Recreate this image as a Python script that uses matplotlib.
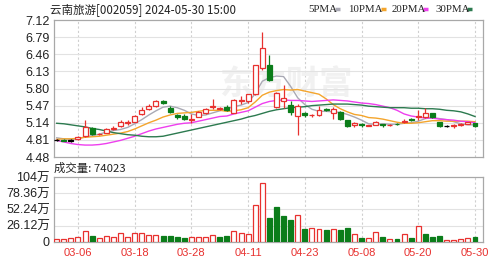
import matplotlib
matplotlib.use("Agg")
import matplotlib.pyplot as plt
from matplotlib.lines import Line2D
import numpy as np

# trading days, 2024-03-01 .. 2024-05-30
dates = ["03-01", "03-04", "03-05", "03-06", "03-07", "03-08", "03-11", "03-12", "03-13", "03-14",
         "03-15", "03-18", "03-19", "03-20", "03-21", "03-22", "03-25", "03-26", "03-27", "03-28",
         "03-29", "04-01", "04-02", "04-03", "04-08", "04-09", "04-10", "04-11", "04-12", "04-15",
         "04-16", "04-17", "04-18", "04-19", "04-22", "04-23", "04-24", "04-25", "04-26", "04-29",
         "04-30", "05-06", "05-07", "05-08", "05-09", "05-10", "05-13", "05-14", "05-15", "05-16",
         "05-17", "05-20", "05-21", "05-22", "05-23", "05-24", "05-27", "05-28", "05-29", "05-30"]
tick_dates = ["03-06", "03-18", "03-28", "04-11", "04-23", "05-08", "05-20", "05-30"]

opens = [4.81, 4.81, 4.80, 4.82, 4.88, 5.04, 4.92, 4.95, 5.02, 5.08,
         5.14, 5.16, 5.31, 5.41, 5.46, 5.55, 5.43, 5.28, 5.27, 5.20,
         5.26, 5.32, 5.44, 5.41, 5.44, 5.33, 5.56, 5.56, 5.69, 6.20,
         6.25, 5.45, 5.55, 5.49, 5.27, 5.33, 5.28, 5.28, 5.40, 5.33,
         5.35, 5.19, 5.10, 5.11, 5.08, 5.10, 5.11, 5.09, 5.12, 5.16,
         5.21, 5.25, 5.26, 5.32, 5.15, 5.08, 5.08, 5.10, 5.12, 5.13]
highs = [4.83, 4.82, 4.83, 4.88, 5.19, 5.05, 4.94, 5.03, 5.07, 5.20,
         5.19, 5.29, 5.44, 5.51, 5.58, 5.58, 5.46, 5.30, 5.30, 5.30,
         5.36, 5.43, 5.60, 5.45, 5.48, 5.60, 5.65, 5.70, 6.26, 6.89,
         6.45, 5.73, 5.87, 5.55, 5.50, 5.34, 5.31, 5.46, 5.42, 5.44,
         5.37, 5.20, 5.15, 5.13, 5.09, 5.17, 5.12, 5.11, 5.14, 5.22,
         5.23, 5.39, 5.42, 5.33, 5.16, 5.10, 5.11, 5.13, 5.16, 5.14]
lows = [4.79, 4.78, 4.77, 4.81, 4.86, 4.90, 4.91, 4.94, 5.00, 5.06,
        5.10, 5.15, 5.29, 5.39, 5.45, 5.50, 5.33, 5.22, 5.19, 5.14,
        5.25, 5.30, 5.41, 5.39, 5.36, 5.32, 5.50, 5.52, 5.67, 6.15,
        5.94, 5.42, 5.43, 5.29, 4.90, 5.25, 5.26, 5.27, 5.36, 5.21,
        5.19, 5.06, 5.05, 5.06, 5.07, 5.09, 5.05, 5.08, 5.09, 5.14,
        5.17, 5.20, 5.24, 5.24, 5.06, 5.05, 5.04, 5.07, 5.11, 5.06]
closes = [4.81, 4.79, 4.80, 4.87, 5.06, 4.92, 4.93, 5.01, 5.03, 5.15,
          5.15, 5.27, 5.39, 5.47, 5.56, 5.53, 5.35, 5.26, 5.21, 5.22,
          5.35, 5.41, 5.46, 5.43, 5.38, 5.58, 5.57, 5.69, 6.26, 6.58,
          5.96, 5.71, 5.62, 5.35, 5.47, 5.28, 5.29, 5.39, 5.39, 5.41,
          5.21, 5.08, 5.14, 5.10, 5.09, 5.16, 5.09, 5.10, 5.11, 5.18,
          5.20, 5.27, 5.32, 5.25, 5.07, 5.08, 5.09, 5.11, 5.15, 5.08]

ma5 = [4.85, 4.83, 4.82, 4.83, 4.87, 4.89, 4.92, 4.96, 4.99, 5.01,
       5.05, 5.12, 5.20, 5.29, 5.37, 5.44, 5.46, 5.43, 5.38, 5.31,
       5.28, 5.29, 5.33, 5.37, 5.41, 5.45, 5.48, 5.53, 5.70, 5.94,
       6.01, 6.04, 6.03, 5.84, 5.62, 5.49, 5.40, 5.36, 5.36, 5.35,
       5.34, 5.30, 5.25, 5.19, 5.12, 5.11, 5.12, 5.11, 5.11, 5.13,
       5.14, 5.17, 5.22, 5.24, 5.22, 5.20, 5.16, 5.12, 5.10, 5.10]
ma10 = [4.82, 4.83, 4.83, 4.84, 4.86, 4.87, 4.88, 4.90, 4.92, 4.94,
        4.97, 5.02, 5.08, 5.14, 5.19, 5.25, 5.29, 5.32, 5.33, 5.34,
        5.36, 5.38, 5.38, 5.38, 5.36, 5.37, 5.39, 5.43, 5.54, 5.67,
        5.73, 5.76, 5.78, 5.77, 5.78, 5.75, 5.72, 5.69, 5.60, 5.49,
        5.41, 5.35, 5.30, 5.28, 5.24, 5.23, 5.21, 5.18, 5.15, 5.13,
        5.13, 5.14, 5.16, 5.18, 5.18, 5.17, 5.17, 5.17, 5.17, 5.16]
ma20 = [4.80, 4.77, 4.74, 4.72, 4.71, 4.71, 4.72, 4.74, 4.77, 4.80,
        4.84, 4.88, 4.93, 4.98, 5.02, 5.05, 5.08, 5.11, 5.13, 5.14,
        5.17, 5.20, 5.23, 5.26, 5.27, 5.31, 5.34, 5.37, 5.44, 5.51,
        5.55, 5.57, 5.58, 5.57, 5.57, 5.56, 5.55, 5.56, 5.57, 5.58,
        5.57, 5.56, 5.54, 5.52, 5.51, 5.49, 5.46, 5.43, 5.38, 5.31,
        5.27, 5.25, 5.23, 5.23, 5.21, 5.20, 5.19, 5.17, 5.16, 5.14]
ma30 = [5.13, 5.12, 5.10, 5.08, 5.06, 5.03, 5.01, 4.98, 4.95, 4.93,
        4.91, 4.90, 4.88, 4.87, 4.87, 4.88, 4.91, 4.94, 4.97, 5.00,
        5.03, 5.06, 5.09, 5.12, 5.15, 5.18, 5.21, 5.25, 5.28, 5.32,
        5.36, 5.39, 5.41, 5.43, 5.44, 5.45, 5.47, 5.48, 5.49, 5.50,
        5.50, 5.50, 5.49, 5.48, 5.46, 5.45, 5.44, 5.43, 5.43, 5.43,
        5.42, 5.42, 5.41, 5.41, 5.40, 5.38, 5.37, 5.35, 5.31, 5.26]

# volume in 万手; u = red bar, d = green bar
volume = [5.2, 4.5, 6.8, 7.8, 17.0, 10.4, 6.0, 10.4, 7.8, 14.0,
          7.8, 14.0, 14.0, 11.5, 11.5, 10.4, 9.0, 7.3, 6.3, 7.8,
          7.8, 7.8, 11.5, 7.3, 8.9, 18.0, 14.6, 13.0, 59.0, 95.0,
          38.0, 56.3, 41.7, 35.5, 43.3, 20.9, 22.4, 20.9, 18.8, 20.9,
          19.8, 22.4, 13.6, 6.3, 6.3, 15.6, 7.3, 5.2, 5.2, 13.6,
          6.8, 25.0, 13.6, 8.3, 9.4, 4.0, 4.0, 4.5, 5.7, 7.4]
vol_dir = ("uuuuuduuuu" "uuuuuddddu" "uuudduuuuu"
           "dddduduudu" "dduduududu" "duddduuuud")
vol_last = "74023"

price_ticks = [4.48, 4.81, 5.14, 5.47, 5.80, 6.13, 6.46, 6.79, 7.12]
vol_ticks = [0, 26.12, 52.24, 78.36, 104]
vol_labels = ["0", "26.12万", "52.24万", "78.36万", "104万"]

RED = "#e8312f"
GREEN = "#0b7d1a"
GRID = "#e2e2e2"
FRAME = "#a8a8a8"
ma_colors = ["#a9a9b4", "#f4a52c", "#ee3fee", "#2c7a4f"]

plt.rcParams['font.family'] = ['Liberation Sans', 'Noto Sans CJK SC']

W, H = 503, 262
fig = plt.figure(figsize=(W / 100, H / 100), dpi=100)

def box(l, t, r, b):
    return [l / W, 1 - b / H, (r - l) / W, (b - t) / H]

ax = fig.add_axes(box(54, 20, 483, 157))
axv = fig.add_axes(box(54, 177, 483, 242))

x = np.arange(len(dates))
o = np.array(opens); c = np.array(closes)
hi = np.array(highs); lo = np.array(lows)
col = np.where(c > o, RED, np.where(c < o, GREEN, "black"))
face = np.where(c > o, "white", col)
xt = [dates.index(d) for d in tick_dates]

for a in (ax, axv):
    a.set_xlim(-0.38, 60.13)
    for s in a.spines.values():
        s.set_color(FRAME)
        s.set_linewidth(0.9)
    for t in xt:
        a.axvline(t, color="#cfcfcf", lw=0.8, ls=(0, (2, 2)), zorder=0)
    a.tick_params(length=0, labelsize=9, pad=3, colors="#222222")

# watermark
ax.text(0.54, 0.52, "东方财富", transform=ax.transAxes, ha="center", va="center",
        fontsize=24, color="#f1f1f1", fontweight="bold", zorder=0)

# price panel
ax.set_ylim(4.48, 7.12)
ax.set_yticks(price_ticks)
ax.set_yticklabels(["%.2f" % v for v in price_ticks])
for v in price_ticks[1:-1]:
    ax.axhline(v, color=GRID, lw=0.8, zorder=0)
ax.set_xticks([])

for m, cl in zip([ma5, ma10, ma20, ma30], ma_colors):
    ax.plot(x, m, color=cl, lw=1.0, zorder=2)

ax.vlines(x, lo, hi, colors=col, lw=0.9, zorder=3)
body_b = np.minimum(o, c)
body_h = np.maximum(np.abs(c - o), 0.008)
body_b = np.where(c == o, o - 0.004, body_b)
ax.bar(x, body_h, bottom=body_b, width=0.7, color=face, edgecolor=col,
       linewidth=0.9, zorder=4)

# volume panel
vcol = [RED if d == "u" else GREEN for d in vol_dir]
vface = ["white" if d == "u" else GREEN for d in vol_dir]
axv.bar(x, volume, width=0.7, color=vface, edgecolor=vcol, linewidth=0.9, zorder=3)
axv.set_ylim(0, 104)
axv.set_yticks(vol_ticks)
axv.set_yticklabels(vol_labels)
for v in vol_ticks[1:-1]:
    axv.axhline(v, color=GRID, lw=0.8, zorder=0)
axv.set_xticks(xt)
axv.set_xticklabels(tick_dates, color=RED, fontsize=8)
axv.tick_params(axis="x", pad=4)

# header texts
fig.text(50 / W, 1 - 10 / H, "云南旅游[002059] 2024-05-30 15:00", fontsize=8.3,
         family=["Noto Sans CJK SC"], va="center", ha="left", color="#222222")
fig.text(54 / W, 1 - 168 / H, "成交量: " + vol_last, fontsize=8.2,
         family=["Noto Sans CJK SC"], va="center", ha="left", color="#222222")

legend_names = ["5PMA", "10PMA", "20PMA", "30PMA"]
legend_x = [308, 348, 392, 435]
dash_x = [335, 381, 423, 467]
for name, lx, dx, cl in zip(legend_names, legend_x, dash_x, ma_colors):
    fig.text(lx / W, 1 - 9 / H, name, fontsize=7.8, va="center", ha="left",
             family=["Liberation Serif"], color="#222222")
    fig.add_artist(Line2D([dx / W, (dx + 5) / W], [1 - 9 / H, 1 - 9 / H],
                          color=cl, lw=2.5, solid_capstyle="butt"))

fig.savefig("out.png", dpi=100)
